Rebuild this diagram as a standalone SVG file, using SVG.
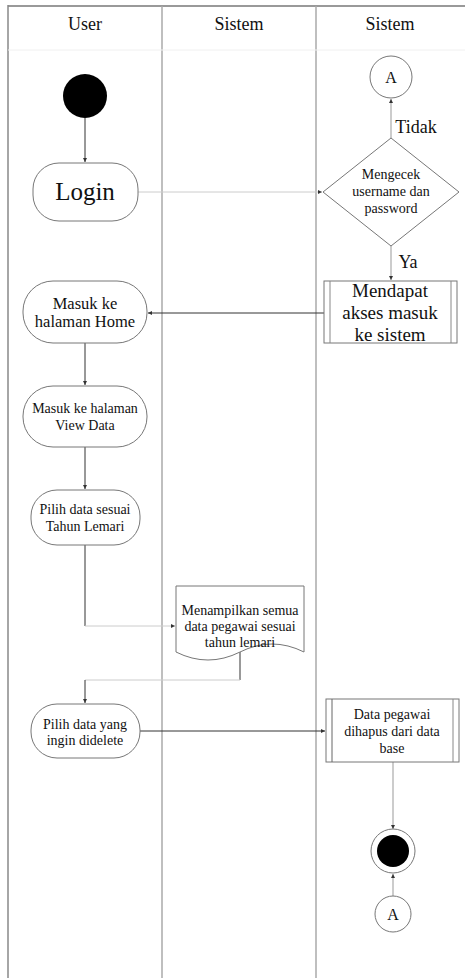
<svg xmlns="http://www.w3.org/2000/svg" width="465" height="978" viewBox="0 0 465 978">
<defs>
<marker id="ah" viewBox="0 0 6 6" refX="6" refY="3" markerWidth="4" markerHeight="4" orient="auto" markerUnits="userSpaceOnUse">
<path d="M0,0 L6,3 L0,6 Z" fill="#333"/>
</marker>
</defs>
<style>
text{font-family:"Liberation Serif","Times New Roman",serif;fill:#111;text-anchor:middle}
.lane{stroke:#aaa;stroke-width:1.5;fill:none}
.node{fill:#fff;stroke:#777;stroke-width:1}
.dk{stroke:#333;stroke-width:1;fill:none}
.gr{stroke:#999;stroke-width:1;fill:none}
.lt{stroke:#ccc;stroke-width:1;fill:none}
.h{font-size:18px}
.s14{font-size:14px}
</style>
<rect width="465" height="978" fill="#fff"/>
<g id="lanes">
<line x1="8" y1="6" x2="465" y2="6" stroke="#999" stroke-width="2"/>
<line x1="8" y1="5" x2="8" y2="978" stroke="#888" stroke-width="1.5"/>
<line x1="162" y1="6" x2="162" y2="978" class="lane"/>
<line x1="316" y1="6" x2="316" y2="978" class="lane" stroke="#bbb"/>
<line x1="8" y1="50" x2="465" y2="50" stroke="#f0f0f0" stroke-width="1"/>
<text x="85" y="30" class="h">User</text>
<text x="239" y="30" class="h">Sistem</text>
<text x="390" y="30" class="h">Sistem</text>
</g>
<g id="connectors">
<line x1="85" y1="118" x2="85" y2="162" class="dk" marker-end="url(#ah)"/>
<line x1="138" y1="192" x2="322" y2="192" class="lt" marker-end="url(#ah)"/>
<line x1="391" y1="138" x2="391" y2="99" class="gr" marker-end="url(#ah)"/>
<line x1="391" y1="246" x2="391" y2="280" class="gr" marker-end="url(#ah)"/>
<line x1="324" y1="313" x2="148" y2="313" class="dk" marker-end="url(#ah)"/>
<line x1="85" y1="343" x2="85" y2="385" class="dk" marker-end="url(#ah)"/>
<line x1="85" y1="447" x2="85" y2="489" class="dk" marker-end="url(#ah)"/>
<line x1="85" y1="545" x2="85" y2="626" class="dk"/>
<line x1="85" y1="626" x2="175" y2="626" class="lt" marker-end="url(#ah)"/>
<line x1="240" y1="652" x2="240" y2="680" stroke="#777" stroke-width="1.5"/>
<line x1="240" y1="680" x2="85" y2="680" class="lt"/>
<line x1="85" y1="680" x2="85" y2="703" class="dk" marker-end="url(#ah)"/>
<line x1="140" y1="731" x2="325" y2="731" class="dk" marker-end="url(#ah)"/>
<line x1="393" y1="762" x2="393" y2="829" class="gr" marker-end="url(#ah)"/>
<line x1="393" y1="896" x2="393" y2="874" class="gr" marker-end="url(#ah)"/>
</g>
<g id="start"><circle cx="85" cy="96" r="22" fill="#000"/></g>
<g id="login">
<rect x="33" y="163" width="105" height="58" rx="26" class="node"/>
<text x="85" y="200" font-size="25">Login</text>
</g>
<g id="check">
<polygon points="391,138 459,192 391,246 323,192" class="node" stroke="#999"/>
<text x="391" y="179" class="s14">Mengecek</text>
<text x="391" y="196" class="s14">username dan</text>
<text x="391" y="213" class="s14">password</text>
</g>
<g id="connA1">
<circle cx="391" cy="77" r="21" class="node" stroke="#999"/>
<text x="391" y="83" font-size="16">A</text>
</g>
<g id="label-tidak"><text x="416" y="133" class="h">Tidak</text></g>
<g id="label-ya"><text x="408" y="268" class="h">Ya</text></g>
<g id="akses">
<rect x="324" y="281" width="133" height="62" class="node" stroke="#888"/>
<line x1="330" y1="281" x2="330" y2="343" stroke="#888"/>
<line x1="451" y1="281" x2="451" y2="343" stroke="#888"/>
<text x="390" y="297" font-size="19">Mendapat</text>
<text x="390" y="319" font-size="19">akses masuk</text>
<text x="390" y="341" font-size="19">ke sistem</text>
</g>
<g id="home">
<rect x="23" y="281" width="124" height="62" rx="30" class="node"/>
<text x="85" y="309" font-size="16.5">Masuk ke</text>
<text x="85" y="327" font-size="16.5">halaman Home</text>
</g>
<g id="viewdata">
<rect x="23" y="386" width="124" height="61" rx="30" class="node"/>
<text x="85" y="413" class="s14">Masuk ke halaman</text>
<text x="85" y="430" class="s14">View Data</text>
</g>
<g id="pilihtahun">
<rect x="31" y="490" width="109" height="55" rx="26" class="node"/>
<text x="85" y="514" class="s14">Pilih data sesuai</text>
<text x="85" y="531" class="s14">Tahun Lemari</text>
</g>
<g id="tampil">
<path d="M176,586 L304,586 L304,652 Q272,636 240,652 Q208,668 176,652 Z" class="node"/>
<text x="240" y="615" class="s14">Menampilkan semua</text>
<text x="240" y="631" class="s14">data pegawai sesuai</text>
<text x="240" y="647" class="s14">tahun lemari</text>
</g>
<g id="pilihdelete">
<rect x="31" y="704" width="109" height="54" rx="26" class="node"/>
<text x="85" y="729" class="s14">Pilih data yang</text>
<text x="85" y="745" class="s14">ingin didelete</text>
</g>
<g id="hapus">
<rect x="326" y="699" width="133" height="63" class="node" stroke="#666"/>
<line x1="332" y1="699" x2="332" y2="762" stroke="#666"/>
<line x1="453" y1="699" x2="453" y2="762" stroke="#888"/>
<text x="392" y="719" class="s14">Data pegawai</text>
<text x="392" y="736" class="s14">dihapus dari data</text>
<text x="392" y="753" class="s14">base</text>
</g>
<g id="end">
<circle cx="393" cy="851" r="22" fill="#fff" stroke="#777"/>
<circle cx="393" cy="851" r="16" fill="#000"/>
</g>
<g id="connA2">
<circle cx="393" cy="914" r="18" class="node" stroke="#999"/>
<text x="393" y="920" font-size="16">A</text>
</g>
</svg>
